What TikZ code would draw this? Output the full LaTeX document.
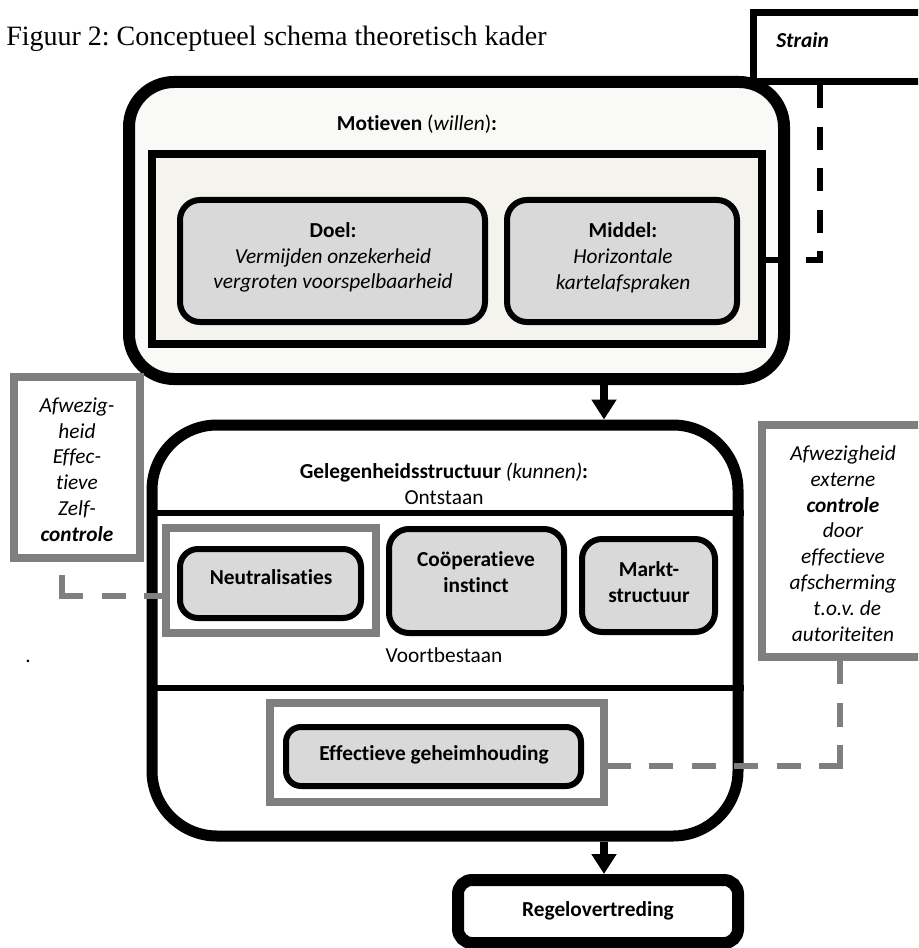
\documentclass[tikz,border=0pt]{standalone}
\usepackage{fontspec}
\setmainfont{Carlito}[Ligatures=NoCommon]
\newfontfamily\titlefont{Liberation Serif}
\usetikzlibrary{arrows.meta}
\frenchspacing

\definecolor{motfill}{HTML}{F9F9F7}
\definecolor{innerfill}{HTML}{F4F3EE}
\definecolor{boxgray}{HTML}{D9D9D9}
\definecolor{framegray}{HTML}{7F7F7F}

\tikzset{
  shape box/.style={draw=black, inner sep=0pt},
  motbox/.style={shape box, line width=9pt, rounded corners=33.75pt, fill=motfill},
  innerbox/.style={shape box, line width=6pt, fill=innerfill},
  graybox/.style={shape box, line width=4.5pt, rounded corners=15pt, fill=boxgray},
  gelbox/.style={shape box, line width=8.25pt, rounded corners=48.75pt, fill=white},
  regelbox/.style={shape box, line width=9pt, rounded corners=10.5pt, fill=white},
  strainbox/.style={shape box, line width=5.25pt, fill=white},
  frame/.style={draw=framegray, line width=6pt, inner sep=0pt},
  divider/.style={line width=4.5pt},
  flow/.style={line width=6pt, -{Triangle[width=18pt,length=15pt]}},
  bdash/.style={draw=black, line width=4.5pt, dash pattern=on 17.25pt off 13.875pt},
  gdash/.style={draw=framegray, line width=4.5pt, dash pattern=on 18pt off 13.875pt},
  txt/.style={inner sep=0pt, align=center, font=\fontsize{16pt}{19.35pt}\selectfont},
  itxt/.style={inner sep=0pt, align=center, font=\fontsize{16pt}{19.35pt}\selectfont\itshape},
}

\begin{document}
\begin{tikzpicture}[x=0.75pt, y=-0.75pt]
\useasboundingbox (0,0) rectangle (918,948);
\begin{scope}
\clip (0,0) rectangle (918,948);

% motives block
\node[motbox, minimum width=491.25pt, minimum height=222.75pt] (mot) at (456.5,230.5) {};
\node[innerbox, minimum width=457.5pt, minimum height=142.5pt] (minner) at (457,249) {};
\node[graybox, minimum width=228.75pt, minimum height=91.5pt] (doel) at (332.5,261) {};
\node[graybox, minimum width=172.5pt, minimum height=91.5pt] (middel) at (622,261) {};

% opportunity structure block
\node[gelbox, minimum width=439.5pt, minimum height=308.25pt] (gel) at (445,630.5) {};
\coordinate (l1) at (0,513);
\coordinate (l2) at (0,688);
\draw[divider] (gel.west |- l1) -- (gel.east |- l1);
\draw[divider] (gel.west |- l2) -- (gel.east |- l2);

\node[frame, minimum width=157.5pt, minimum height=78.75pt] (nfr) at (271,580.5) {};
\node[graybox, rounded corners=13.5pt, minimum width=135.75pt, minimum height=51.75pt] (neut) at (270.5,583.5) {};
\node[graybox, minimum width=131.25pt, minimum height=78pt] (coop) at (476.5,581) {};
\node[graybox, minimum width=99.75pt, minimum height=69.75pt] (markt) at (648.5,585.5) {};
\node[frame, minimum width=250.5pt, minimum height=74.25pt] (efr) at (437,752.5) {};
\node[graybox, rounded corners=11.25pt, minimum width=221.25pt, minimum height=44.25pt] (eff) at (433.5,756.5) {};

% outcome
\node[regelbox, minimum width=210pt, minimum height=47.25pt] (regel) at (598,911.5) {};

% side boxes
\node[frame, fill=white, minimum width=94.5pt, minimum height=135.75pt] (lbox) at (77,467.5) {};
\node[frame, fill=white, minimum width=126pt, minimum height=174pt] (rbox) at (846,541) {};
\node[strainbox, minimum width=132.75pt, minimum height=51.75pt] (strain) at (841.5,47.5) {};

% arrows
\coordinate (ax) at (604,0);
\draw[flow] (mot.south -| ax) -- (gel.north -| ax);
\draw[flow] (gel.south -| ax) -- (regel.north -| ax);

% dashed links
\coordinate (sc) at (820,260);
\draw[bdash] (strain.south -| sc) -- (sc);
\draw[bdash, dash pattern=on 17.25pt off 12.75pt] (minner.east |- sc) -- ([xshift=2.25pt]sc);

\coordinate (rc) at (840,766);
\draw[gdash] ([yshift=-2.25pt]rc) -- (rbox.south -| rc);
\draw[gdash] ([xshift=2.25pt]rc) -- (efr.east |- rc);

\coordinate (lc) at (62,596);
\draw[gdash] ([yshift=-2.25pt]lc) -- (lbox.south -| lc);
\draw[gdash] ([xshift=-2.25pt]lc) -- (nfr.west |- lc);

% texts
\node[inner sep=0pt, anchor=base west, font=\titlefont\fontsize{21pt}{25pt}\selectfont] (title) at (6,46) {Figuur 2: Conceptueel schema theoretisch kader};
\node[txt] (motlbl) at (417,124) {\textbf{Motieven} (\textit{willen})\textbf{:}};
\node[txt] (doeltxt) at (333,257.5) {\textbf{Doel:}\\\textit{Vermijden onzekerheid}\\\textit{vergroten voorspelbaarheid}};
\node[txt] (midtxt) at (623,257.5) {\textbf{Middel:}\\\textit{Horizontale}\\\textit{kartelafspraken}};
\node[txt] (gellbl) at (444,473) {\textbf{Gelegenheidsstructuur} \textit{(kunnen)}\textbf{:}};
\node[txt] (ontst) at (444,498) {Ontstaan};
\node[txt] (voortb) at (444,655) {Voortbestaan};
\node[txt] (neuttxt) at (271,577) {\textbf{Neutralisaties}};
\node[txt] (cooptxt) at (476,572) {\textbf{Coöperatieve}\\\textbf{instinct}};
\node[txt] (markttxt) at (649,582) {\textbf{Markt-}\\\textbf{structuur}};
\node[txt] (efftxt) at (434,755) {\textbf{Effectieve geheimhouding}};
\node[txt] (regeltxt) at (598,911) {\textbf{Regelovertreding}};
\node[itxt] (ltxt) at (77,469.5) {Afwezig-\\heid\\Effec-\\tieve\\Zelf-\\\textbf{controle}};
\node[itxt] (rtxt) at (843,543.5) {Afwezigheid\\externe\\\textbf{controle}\\door\\effectieve\\afscherming\\\hspace*{0.4em}t.o.v. de\\autoriteiten};
\node[txt, anchor=west] (straintxt) at (776,40) {\textbf{\textit{Strain}}};
\node[txt, anchor=base] (dot) at (28,662) {.};
\end{scope}
\end{tikzpicture}
\end{document}
